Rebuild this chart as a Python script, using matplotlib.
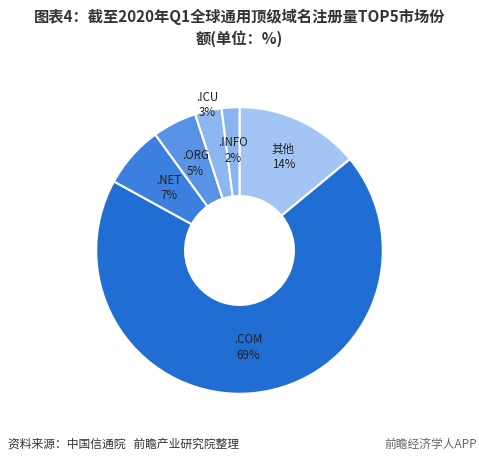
import numpy as np
import matplotlib
matplotlib.use('Agg')
import matplotlib.pyplot as plt

plt.rcParams['font.family'] = ['Noto Sans CJK SC', 'DejaVu Sans']

# 数据
labels = ['其他', '.COM', '.NET', '.ORG', '.ICU', '.INFO']
shares = [14, 69, 7, 5, 3, 2]
colors = ['#a3c5f3', '#206dd3', '#3b80df', '#5893e5', '#8cb6ef', '#8ab4ee']
# 标签离圆心的距离(相对半径)
label_r = [0.72, 0.68, 0.66, 0.68, 1.04, 0.7]

fig = plt.figure(figsize=(4.79, 4.66), dpi=100)
ax = fig.add_axes([0.2, 0.155, 0.6, 0.615])

wedges, _ = ax.pie(shares, colors=colors, startangle=90, counterclock=False,
                   radius=1.0, wedgeprops=dict(width=0.62, edgecolor='white', linewidth=1.5))
ax.set_aspect('equal')
ax.set_xlim(-1, 1)
ax.set_ylim(-1, 1)

for w, lab, val, r in zip(wedges, labels, shares, label_r):
    ang = np.deg2rad((w.theta1 + w.theta2) / 2)
    x, y = r * np.cos(ang), r * np.sin(ang)
    ax.text(x, y, f'{lab}\n{val}%', ha='center', va='center', fontsize=8.3,
            color='#222222', linespacing=1.25)

# 标题
fig.text(0.5, 0.963, '图表4：截至2020年Q1全球通用顶级域名注册量TOP5市场份', ha='center', va='center',
         fontsize=11, fontweight='bold', color='#333333')
fig.text(0.5, 0.918, '额(单位：%)', ha='center', va='center',
         fontsize=11, fontweight='bold', color='#333333')

# 来源
fig.text(0.017, 0.047, '资料来源：中国信通院   前瞻产业研究院整理', ha='left', va='center',
         fontsize=8.5, color='#333333')
fig.text(0.995, 0.047, '前瞻经济学人APP', ha='right', va='center',
         fontsize=8.5, color='#666666')

plt.savefig('out.png', dpi=100)
